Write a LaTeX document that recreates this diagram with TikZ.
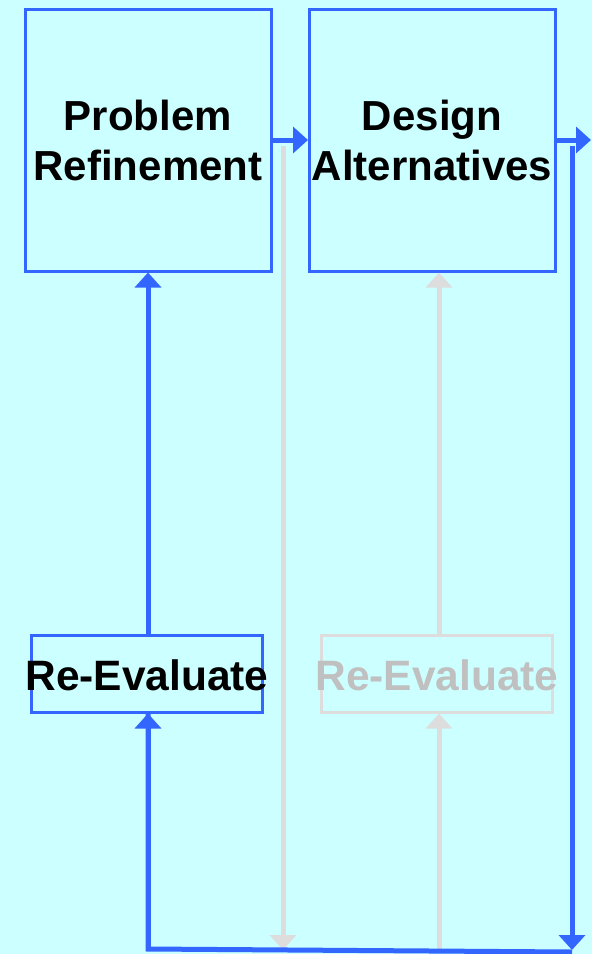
\documentclass[tikz,border=0pt]{standalone}
\usepackage{fontspec}
\setmainfont{Liberation Sans}
\usetikzlibrary{arrows.meta}
\definecolor{bgc}{HTML}{CCFFFF}
\definecolor{blu}{HTML}{3366FF}
\definecolor{gline}{HTML}{DDDDDD}
\definecolor{gtext}{HTML}{C0C0C0}
\tikzset{
  bigbox/.style={draw=blu, line width=3pt, inner sep=0pt, minimum width=246pt, minimum height=262pt,
    align=center, font=\fontsize{42}{50}\selectfont\bfseries},
  rebox/.style={draw=#1, line width=3pt, inner sep=0pt, minimum width=231pt, minimum height=77pt},
  retext/.style={text=#1, inner sep=0pt, font=\fontsize{42.5}{50}\selectfont\bfseries},
  barr/.style={draw=blu, line width=5pt, -{Triangle[length=15pt,width=26pt]}},
  bline/.style={draw=blu, line width=5pt},
  garr/.style={draw=gline, line width=5pt, -{Triangle[length=15pt,width=26pt]}},
}
\begin{document}
\begin{tikzpicture}[x=1pt,y=-1pt]
\fill[bgc] (0,0) rectangle (592,954);
\useasboundingbox (0,0) rectangle (592,954);
\node[bigbox] (pr) at (148,140) {Problem\\Refinement};
\node[bigbox] (da) at (432,140) {Design\\Alternatives};
\node[rebox=blu] (re1) at (146.5,673.5) {};
\node[retext=black] (re1t) at (147,675) {Re-Evaluate};
\node[rebox=gline] (re2) at (436.5,673.5) {};
\node[retext=gtext] (re2t) at (437,675) {Re-Evaluate};
\coordinate (o1) at (308,140);
\coordinate (o2) at (591,140);
\coordinate (g1t) at (283,146);
\coordinate (g1b) at (283,950);
\coordinate (b2t) at (572,146);
\coordinate (b2b) at (572,950);
\coordinate (bot1) at (572,952);
\coordinate (bot2) at (148,949);
\coordinate (g2b) at (439,950);
% gray connectors
\draw[garr] (g1t) -- (g1b);
\draw[garr] (g2b) -- (re2.south -| g2b);
\draw[garr] (re2.north -| g2b) -- (da.south -| g2b);
% blue connectors
\draw[barr] (pr.east) -- (o1);
\draw[barr] (da.east) -- (o2);
\draw[barr] (b2t) -- (b2b);
\draw[bline, line join=miter] (bot1) -- (bot2) -- (148,712);
\draw[barr] (bot2) -- (re1.south -| bot2);
\draw[barr] (re1.north -| bot2) -- (pr.south -| bot2);
\end{tikzpicture}
\end{document}
